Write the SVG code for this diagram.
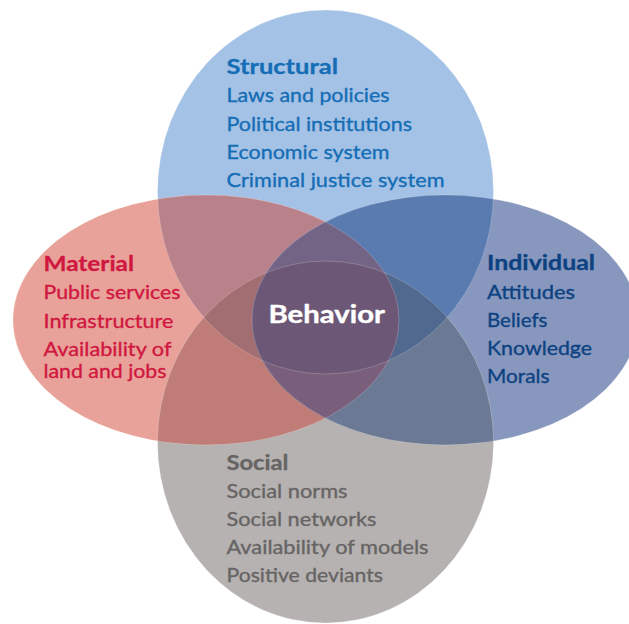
<svg xmlns="http://www.w3.org/2000/svg" width="629" height="624" viewBox="0 0 629 624">
<defs>
<style>
text{font-family:Lato,"Open Sans","Liberation Sans",sans-serif;font-size:20px;stroke-width:0.35;paint-order:stroke}
.h{font-weight:bold;stroke-width:0.3}
.b{fill:#156db5;stroke:#156db5}
.r{fill:#d0173f;stroke:#d0173f}
.n{fill:#0d4282;stroke:#0d4282}
.g{fill:#676464;stroke:#676464}
.edge{fill:none;stroke:#ffffff;stroke-opacity:0.25;stroke-width:0.8}
</style>
<ellipse id="eS" cx="325.5" cy="192" rx="168" ry="182"/>
<ellipse id="eM" cx="206" cy="320" rx="193" ry="125"/>
<ellipse id="eI" cx="445" cy="320" rx="193" ry="125"/>
<ellipse id="eSo" cx="325.5" cy="442" rx="168" ry="181"/>
<clipPath id="cS"><use href="#eS"/></clipPath>
<clipPath id="cM"><use href="#eM"/></clipPath>
<clipPath id="cI"><use href="#eI"/></clipPath>
<clipPath id="cSo"><use href="#eSo"/></clipPath>
</defs>
<rect width="629" height="624" fill="#ffffff"/>
<g id="shapes">
<use href="#eS" fill="#a4c2e6"/>
<use href="#eM" fill="#e8a299"/>
<use href="#eI" fill="#8797bd"/>
<use href="#eSo" fill="#b5b2b1"/>
<g clip-path="url(#cS)"><use href="#eM" fill="#b9828b"/><use href="#eI" fill="#5a7bb0"/></g>
<g clip-path="url(#cSo)"><use href="#eM" fill="#c07c77"/><use href="#eI" fill="#6b7995"/></g>
<g clip-path="url(#cS)"><g clip-path="url(#cM)"><use href="#eI" fill="#736486"/><use href="#eSo" fill="#a36e72"/></g></g>
<g clip-path="url(#cSo)"><g clip-path="url(#cI)"><use href="#eS" fill="#51698f"/><use href="#eM" fill="#7a5f7c"/></g></g>
<g clip-path="url(#cS)"><g clip-path="url(#cM)"><g clip-path="url(#cI)"><use href="#eSo" fill="#6c5876"/></g></g></g>
<use href="#eS" class="edge"/>
<use href="#eM" class="edge"/>
<use href="#eI" class="edge"/>
<use href="#eSo" class="edge"/>
</g>
<g id="structural">
<text class="h b" x="226.5" y="74" textLength="111.5" lengthAdjust="spacingAndGlyphs">Structural</text>
<text class="b" x="226.5" y="102" textLength="163" lengthAdjust="spacingAndGlyphs">Laws and policies</text>
<text class="b" x="226.5" y="130.5" textLength="185.5" lengthAdjust="spacingAndGlyphs">Political institutions</text>
<text class="b" x="226.5" y="159" textLength="163" lengthAdjust="spacingAndGlyphs">Economic system</text>
<text class="b" x="226.5" y="187" textLength="218" lengthAdjust="spacingAndGlyphs">Criminal justice system</text>
</g>
<g id="material">
<text class="h r" x="43.5" y="271" textLength="90.5" lengthAdjust="spacingAndGlyphs">Material</text>
<text class="r" x="43.5" y="299" textLength="137" lengthAdjust="spacingAndGlyphs">Public services</text>
<text class="r" x="43.5" y="327.5" textLength="130" lengthAdjust="spacingAndGlyphs">Infrastructure</text>
<text class="r" x="43.5" y="356" textLength="128" lengthAdjust="spacingAndGlyphs">Availability of</text>
<text class="r" x="43.5" y="377.5" textLength="123" lengthAdjust="spacingAndGlyphs">land and jobs</text>
</g>
<g id="individual">
<text class="h n" x="487" y="270" textLength="108" lengthAdjust="spacingAndGlyphs">Individual</text>
<text class="n" x="487" y="298.5" textLength="88" lengthAdjust="spacingAndGlyphs">Attitudes</text>
<text class="n" x="487" y="327" textLength="60.5" lengthAdjust="spacingAndGlyphs">Beliefs</text>
<text class="n" x="487" y="355" textLength="105" lengthAdjust="spacingAndGlyphs">Knowledge</text>
<text class="n" x="487" y="383" textLength="62.5" lengthAdjust="spacingAndGlyphs">Morals</text>
</g>
<g id="social">
<text class="h g" x="226.5" y="469.5" textLength="62" lengthAdjust="spacingAndGlyphs">Social</text>
<text class="g" x="226.5" y="497.5" textLength="121" lengthAdjust="spacingAndGlyphs">Social norms</text>
<text class="g" x="226.5" y="525.5" textLength="150" lengthAdjust="spacingAndGlyphs">Social networks</text>
<text class="g" x="226.5" y="554" textLength="202" lengthAdjust="spacingAndGlyphs">Availability of models</text>
<text class="g" x="226.5" y="582" textLength="156.5" lengthAdjust="spacingAndGlyphs">Positive deviants</text>
</g>
<g id="behavior">
<text class="h" x="268.5" y="322.5" textLength="116.5" lengthAdjust="spacingAndGlyphs" fill="#ffffff" style="font-size:25px;stroke:#ffffff;stroke-width:0.4">Behavior</text>
</g>
</svg>
